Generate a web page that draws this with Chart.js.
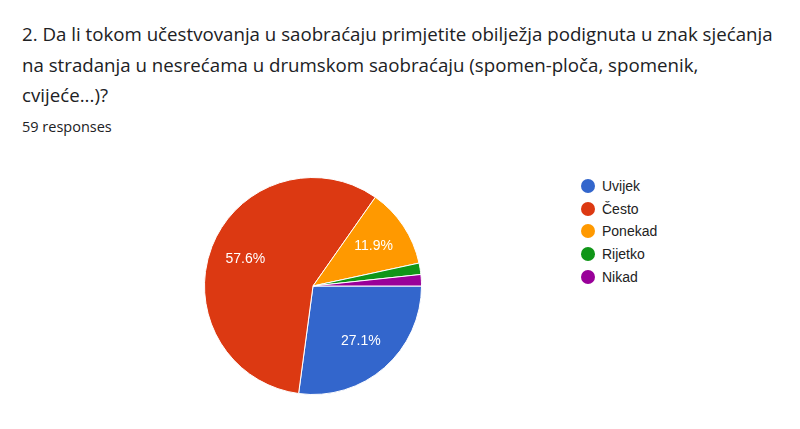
<!DOCTYPE html>
<html>
<head>
<meta charset="utf-8">
<script src="https://cdn.jsdelivr.net/npm/chart.js@4.4.1/dist/chart.umd.min.js"></script>
<style>
  html, body { margin: 0; padding: 0; background: #fff; }
  body { width: 800px; height: 429px; position: relative; overflow: hidden; }
  #title {
    position: absolute; left: 22px; top: 19px;
    font-family: "Open Sans", Roboto, Arial, sans-serif; font-size: 18.7px; line-height: 30.5px;
    color: #202124; white-space: nowrap;
  }
  #count {
    position: absolute; left: 22px; top: 117px;
    font-family: "Open Sans", Roboto, Arial, sans-serif; font-size: 14.5px; color: #202124;
  }
  #pieWrap { position: absolute; left: 198px; top: 171px; width: 230px; height: 230px; }
  #legend {
    position: absolute; left: 581px; top: 175px;
    font-family: "Liberation Sans", Arial, sans-serif; font-size: 14px; color: #222;
  }
  .row { height: 22.6px; display: flex; align-items: center; }
  .dot { width: 14px; height: 14px; border-radius: 50%; margin-right: 7px; }
</style>
</head>
<body>
<div id="title">2. Da li tokom učestvovanja u saobraćaju primjetite obilježja podignuta u znak sjećanja<br>na stradanja u nesrećama u drumskom saobraćaju (spomen-ploča, spomenik,<br>cvijeće...)?</div>
<div id="count">59 responses</div>
<div id="pieWrap"><canvas id="pie" width="230" height="230"></canvas></div>
<div id="legend"></div>
<script>
const categories = ['Uvijek', 'Često', 'Ponekad', 'Rijetko', 'Nikad'];
const responses = [16, 34, 7, 1, 1];
const colors = ['#3366cc', '#dc3912', '#ff9900', '#109618', '#990099'];

const total = responses.reduce((a, b) => a + b, 0);

// percentage labels inside the bigger slices
const sliceLabels = {
  id: 'sliceLabels',
  afterDatasetsDraw(chart) {
    const ctx = chart.ctx;
    const meta = chart.getDatasetMeta(0);
    ctx.save();
    ctx.font = '14px "Liberation Sans", Arial, sans-serif';
    ctx.fillStyle = '#fff';
    ctx.textAlign = 'center';
    ctx.textBaseline = 'middle';
    meta.data.forEach((arc, i) => {
      const share = responses[i] / total;
      if (share < 0.05) return;
      const mid = (arc.startAngle + arc.endAngle) / 2;
      const r = arc.outerRadius * 0.67;
      ctx.fillText((share * 100).toFixed(1) + '%', arc.x + Math.cos(mid) * r, arc.y + Math.sin(mid) * r);
    });
    ctx.restore();
  }
};

new Chart(document.getElementById('pie'), {
  type: 'pie',
  data: {
    labels: categories,
    datasets: [{
      data: responses,
      backgroundColor: colors,
      borderColor: '#fff',
      borderWidth: 1,
    }],
  },
  options: {
    responsive: false,
    animation: false,
    rotation: 90,
    layout: { padding: 6 },
    plugins: {
      legend: { display: false },
      tooltip: { enabled: false },
    },
  },
  plugins: [sliceLabels],
});

const legend = document.getElementById('legend');
categories.forEach((name, i) => {
  const row = document.createElement('div');
  row.className = 'row';
  row.innerHTML = '<span class="dot" style="background:' + colors[i] + '"></span>' + name;
  legend.appendChild(row);
});
</script>
</body>
</html>
